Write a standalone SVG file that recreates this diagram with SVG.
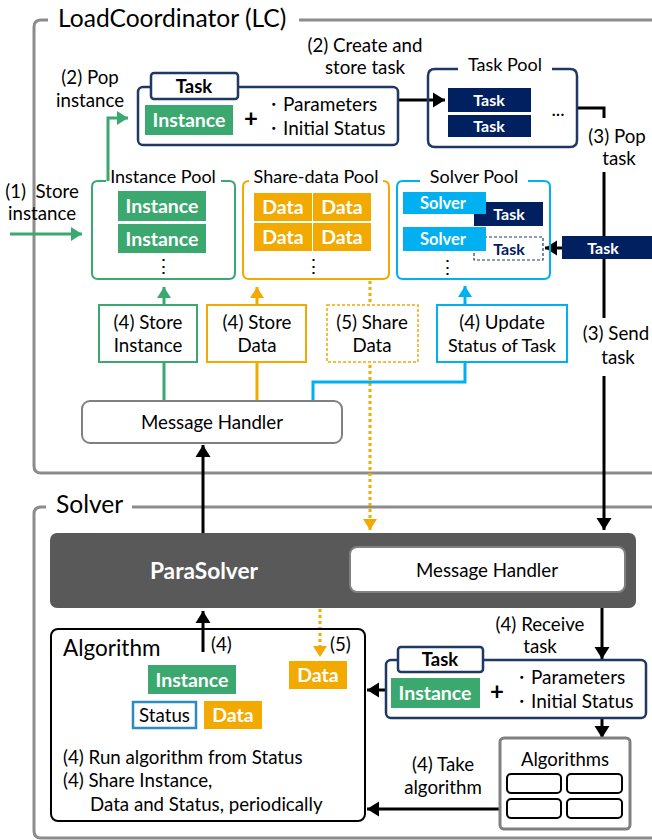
<svg xmlns="http://www.w3.org/2000/svg" width="652" height="840" viewBox="0 0 652 840">
<defs>
<style>
text{font-family:Lato,"Open Sans","Liberation Sans",sans-serif;fill:#000;}
.t16{font-size:18.7px;}
.pl{font-size:18px;}
.mid{text-anchor:middle;}
.wb{fill:#fff;font-weight:bold;}
.fi{font-size:19.5px;}
.ft{font-size:16px;}
.frame{fill:none;stroke:#8c8c8c;stroke-width:3;}
.blk{fill:none;stroke:#000;stroke-width:3;}
.grn{fill:none;stroke:#3aa86f;stroke-width:3;}
.org{fill:none;stroke:#f2a900;stroke-width:3;}
.orgdot{fill:none;stroke:#f2a900;stroke-width:3;stroke-dasharray:3 3;}
.blu{fill:none;stroke:#00b0f0;stroke-width:3;}
.inst{fill:#3aa86f;}
.data{fill:#f2a900;}
.navy{fill:#002060;}
.sol{fill:#00b0f0;}
</style>
<marker id="ab" markerUnits="userSpaceOnUse" markerWidth="16" markerHeight="16" viewBox="0 0 16 16" refX="12" refY="8" orient="auto"><path d="M0,0.5 L12,8 L0,15.5 z" fill="#000"/></marker>
<marker id="ag" markerUnits="userSpaceOnUse" markerWidth="14" markerHeight="14" viewBox="0 0 14 14" refX="11" refY="7" orient="auto"><path d="M0,0 L11,7 L0,14 z" fill="#3aa86f"/></marker>
<marker id="ao" markerUnits="userSpaceOnUse" markerWidth="14" markerHeight="14" viewBox="0 0 14 14" refX="11" refY="7" orient="auto"><path d="M0,0 L11,7 L0,14 z" fill="#f2a900"/></marker>
<marker id="al" markerUnits="userSpaceOnUse" markerWidth="14" markerHeight="14" viewBox="0 0 14 14" refX="11" refY="7" orient="auto"><path d="M0,0 L11,7 L0,14 z" fill="#00b0f0"/></marker>
</defs>
<rect width="652" height="840" fill="#fff"/>

<!-- Frames -->
<g id="lc-frame">
<path class="frame" d="M48 20 H41 Q34 20 34 27 V466 Q34 473 41 473 H652 M299 20 H652"/>
<text x="58" y="27" style="font-size:24.6px">LoadCoordinator (LC)</text>
</g>
<g id="solver-frame">
<path class="frame" d="M46 507 H41 Q34 507 34 514 V831 Q34 838 41 838 H652 M132 507 H652"/>
<text x="56" y="513" style="font-size:24.6px">Solver</text>
</g>

<!-- Connectors -->
<g id="connectors">
<path class="grn" d="M10 234 H82" marker-end="url(#ag)"/>
<path class="grn" d="M108 181 V118 H128" marker-end="url(#ag)"/>
<path class="blk" d="M398 100 H445" marker-end="url(#ab)"/>
<path class="blk" d="M577 108 H604 V118"/>
<path class="blk" d="M604 172 V318"/>
<path class="blk" d="M562 248 H545" marker-end="url(#ab)"/>
<path class="blk" d="M604 376 V530" marker-end="url(#ab)"/>
<path class="grn" d="M164 400 V362"/>
<path class="grn" d="M164 305 V287" marker-end="url(#ag)"/>
<path class="org" d="M257 400 V362"/>
<path class="org" d="M257 305 V287" marker-end="url(#ao)"/>
<path class="orgdot" d="M370 281 V530" marker-end="url(#ao)"/>
<path class="blu" d="M313 401 V382 H465 V362"/>
<path class="blu" d="M465 305 V286" marker-end="url(#al)"/>
<path class="blk" d="M203 533 V445" marker-end="url(#ab)"/>
<path class="blk" d="M203 652 V611" marker-end="url(#ab)"/>
<path class="orgdot" d="M320 609 V657" marker-end="url(#ao)"/>
<path class="blk" d="M602 608 V659" marker-end="url(#ab)"/>
<path class="blk" d="M386 690 H367" marker-end="url(#ab)"/>
<path class="blk" d="M602 718 V738" marker-end="url(#ab)"/>
<path class="blk" d="M518 809 H367" marker-end="url(#ab)"/>
</g>

<!-- Labels -->
<g id="labels" class="t16">
<text class="mid" x="90" y="83.5">(2) Pop</text>
<text class="mid" x="90" y="106.5">instance</text>
<text class="mid" x="365" y="52">(2) Create and</text>
<text class="mid" x="365" y="74">store task</text>
<text class="mid" x="42" y="197.5">(1)&#160; Store</text>
<text class="mid" x="42" y="219.5">instance</text>
<text class="mid" x="617" y="143">(3) Pop</text>
<text class="mid" x="619" y="165">task</text>
<text class="mid" x="616" y="340">(3) Send</text>
<text class="mid" x="618" y="364">task</text>
<text x="211" y="651">(4)</text>
<text x="330" y="651">(5)</text>
<text class="mid" x="540" y="631">(4) Receive</text>
<text class="mid" x="540" y="653">task</text>
<text class="mid" x="443" y="771">(4) Take</text>
<text class="mid" x="443" y="794">algorithm</text>
</g>

<!-- Task (LC) -->
<g id="task-lc">
<rect x="138" y="87" width="260" height="58" rx="5" fill="#fff" stroke="#203864" stroke-width="2.5"/>
<rect x="151" y="73" width="87" height="26" rx="3" fill="#fff" stroke="#203864" stroke-width="2.5"/>
<text class="mid" x="194" y="92.5" style="font-size:18.5px;font-weight:bold">Task</text>
<rect class="inst" x="145" y="105" width="88" height="30"/>
<text class="mid wb fi" x="189" y="127">Instance</text>
<text class="mid" x="251" y="127" style="font-size:24px;font-weight:bold">+</text>
<text x="264" y="111" style="font-size:19px">・Parameters</text>
<text x="264" y="135" style="font-size:19px">・Initial Status</text>
</g>

<!-- Task Pool -->
<g id="task-pool">
<path d="M458 69 H435 Q428 69 428 76 V140 Q428 147 435 147 H570 Q577 147 577 140 V76 Q577 69 570 69 H552" fill="none" stroke="#203864" stroke-width="2.5"/>
<text class="mid pl" x="505" y="71">Task Pool</text>
<rect class="navy" x="448" y="88" width="83" height="24"/>
<text class="mid wb ft" x="489" y="106">Task</text>
<rect class="navy" x="448" y="115" width="83" height="22"/>
<text class="mid wb ft" x="489" y="132">Task</text>
<text class="mid t16" x="558" y="116">...</text>
</g>

<!-- Instance Pool -->
<g id="instance-pool">
<path d="M106 181 H98 Q92 181 92 187 V273 Q92 279 98 279 H229 Q235 279 235 273 V187 Q235 181 229 181 H221" fill="none" stroke="#3aa86f" stroke-width="2"/>
<text class="mid pl" x="163" y="183">Instance Pool</text>
<rect class="inst" x="118" y="191" width="88" height="30"/>
<text class="mid wb fi" x="162" y="213">Instance</text>
<rect class="inst" x="118" y="224" width="88" height="29"/>
<text class="mid wb fi" x="162" y="245.5">Instance</text>
<text class="mid t16" x="163" y="273">⋮</text>
</g>

<!-- Share-data Pool -->
<g id="share-data-pool">
<path d="M249 181 Q243 181 243 187 V273 Q243 279 249 279 H383 Q389 279 389 273 V187 Q389 181 383 181" fill="none" stroke="#f2a900" stroke-width="2"/>
<text class="mid pl" x="316" y="183">Share-data Pool</text>
<rect class="data" x="254" y="193" width="58" height="28"/>
<rect class="data" x="313" y="193" width="58" height="28"/>
<rect class="data" x="254" y="223" width="58" height="28"/>
<rect class="data" x="313" y="223" width="58" height="28"/>
<text class="mid wb fi" x="283" y="214">Data</text>
<text class="mid wb fi" x="342" y="214">Data</text>
<text class="mid wb fi" x="283" y="244">Data</text>
<text class="mid wb fi" x="342" y="244">Data</text>
<text class="mid t16" x="313" y="273">⋮</text>
</g>

<!-- Solver Pool -->
<g id="solver-pool">
<path d="M420 181 H403 Q397 181 397 187 V273 Q397 279 403 279 H544 Q550 279 550 273 V187 Q550 181 544 181 H528" fill="none" stroke="#00b0f0" stroke-width="2"/>
<text class="mid pl" x="474" y="183">Solver Pool</text>
<rect class="navy" x="474" y="202" width="69" height="24"/>
<text class="mid wb ft" x="509" y="220">Task</text>
<rect class="sol" x="403" y="192" width="83" height="22"/>
<text class="mid wb" x="443" y="209" style="font-size:16.5px">Solver</text>
<rect x="474" y="237" width="69" height="23" fill="#fff" stroke="#203864" stroke-width="1.2" stroke-dasharray="3 2"/>
<text x="509" y="255" class="mid ft" style="font-weight:bold;fill:#002060">Task</text>
<rect class="sol" x="403" y="227" width="83" height="24"/>
<text class="mid wb" x="443" y="245" style="font-size:16.5px">Solver</text>
<text class="mid t16" x="447" y="274">⋮</text>
</g>

<!-- Incoming task -->
<g id="task-incoming">
<rect class="navy" x="562" y="236" width="90" height="23"/>
<text class="mid wb ft" x="603" y="254">Task</text>
</g>

<!-- Action boxes -->
<g id="store-instance">
<rect x="99" y="305" width="98" height="57" fill="#fff" stroke="#3aa86f" stroke-width="2"/>
<text class="mid t16" x="148" y="328.5">(4) Store</text>
<text class="mid t16" x="148" y="351.5">Instance</text>
</g>
<g id="store-data">
<rect x="207" y="305" width="99" height="57" fill="#fff" stroke="#f2a900" stroke-width="2"/>
<text class="mid t16" x="257" y="328.5">(4) Store</text>
<text class="mid t16" x="257" y="351.5">Data</text>
</g>
<g id="share-data">
<rect x="327" y="305" width="91" height="57" fill="#fff" stroke="#f2a900" stroke-width="1.5" stroke-dasharray="3 2"/>
<text class="mid t16" x="372" y="328.5">(5) Share</text>
<text class="mid t16" x="372" y="351.5">Data</text>
</g>
<g id="update-status">
<rect x="437" y="305" width="130" height="57" fill="#fff" stroke="#00b0f0" stroke-width="2"/>
<text class="mid t16" x="502" y="328.5">(4) Update</text>
<text class="mid" x="502" y="351.5" style="font-size:18px">Status of Task</text>
</g>

<!-- LC Message Handler -->
<g id="lc-message-handler">
<rect x="82" y="401" width="260" height="42" rx="8" fill="#fff" stroke="#808080" stroke-width="2"/>
<text class="mid t16" x="212" y="429">Message Handler</text>
</g>

<!-- ParaSolver -->
<g id="parasolver">
<rect x="50" y="533" width="586" height="75" rx="7" fill="#595959"/>
<text class="mid wb" x="204" y="579" style="font-size:22.7px">ParaSolver</text>
<rect x="350" y="547" width="275" height="45" rx="7" fill="#fff" stroke="#808080" stroke-width="2"/>
<text class="mid t16" x="487" y="577">Message Handler</text>
</g>

<!-- Algorithm -->
<g id="algorithm">
<rect x="51" y="629" width="314" height="192" rx="7" fill="none" stroke="#000" stroke-width="2"/>
<text x="63" y="656" style="font-size:22.5px">Algorithm</text>
<rect class="inst" x="148" y="665" width="88" height="29"/>
<text class="mid wb fi" x="192" y="686.5">Instance</text>
<rect class="data" x="289" y="661" width="58" height="28"/>
<text class="mid wb fi" x="318" y="682">Data</text>
<rect x="133" y="702" width="63" height="26" fill="#fff" stroke="#2e8bc0" stroke-width="2.5"/>
<text class="mid t16" x="164.5" y="721.5">Status</text>
<rect class="data" x="204" y="701" width="58" height="28"/>
<text class="mid wb fi" x="233" y="722">Data</text>
<text class="t16" x="63" y="763.5">(4) Run algorithm from Status</text>
<text class="t16" x="63" y="786.5">(4) Share Instance,</text>
<text class="t16" x="90" y="810.5">Data and Status, periodically</text>
</g>

<!-- Task (Solver) -->
<g id="task-solver">
<rect x="386" y="660" width="260" height="58" rx="5" fill="#fff" stroke="#203864" stroke-width="2.5"/>
<rect x="398" y="647" width="85" height="25" rx="3" fill="#fff" stroke="#203864" stroke-width="2.5"/>
<text class="mid" x="440" y="666" style="font-size:18.5px;font-weight:bold">Task</text>
<rect class="inst" x="391" y="678" width="89" height="30"/>
<text class="mid wb fi" x="435" y="700">Instance</text>
<text class="mid" x="497" y="700" style="font-size:24px;font-weight:bold">+</text>
<text x="512" y="684" style="font-size:19px">・Parameters</text>
<text x="512" y="708" style="font-size:19px">・Initial Status</text>
</g>

<!-- Algorithms -->
<g id="algorithms">
<rect x="500" y="738" width="130" height="91" rx="4" fill="#fff" stroke="#808080" stroke-width="3"/>
<text class="mid" x="565" y="765.5" style="font-size:18.5px">Algorithms</text>
<rect x="507" y="774" width="54" height="19" rx="4" fill="#fff" stroke="#000" stroke-width="2"/>
<rect x="567" y="774" width="55" height="19" rx="4" fill="#fff" stroke="#000" stroke-width="2"/>
<rect x="507" y="799" width="54" height="19" rx="4" fill="none" stroke="#000" stroke-width="2"/>
<rect x="567" y="799" width="55" height="19" rx="4" fill="#fff" stroke="#000" stroke-width="2"/>
</g>
</svg>
